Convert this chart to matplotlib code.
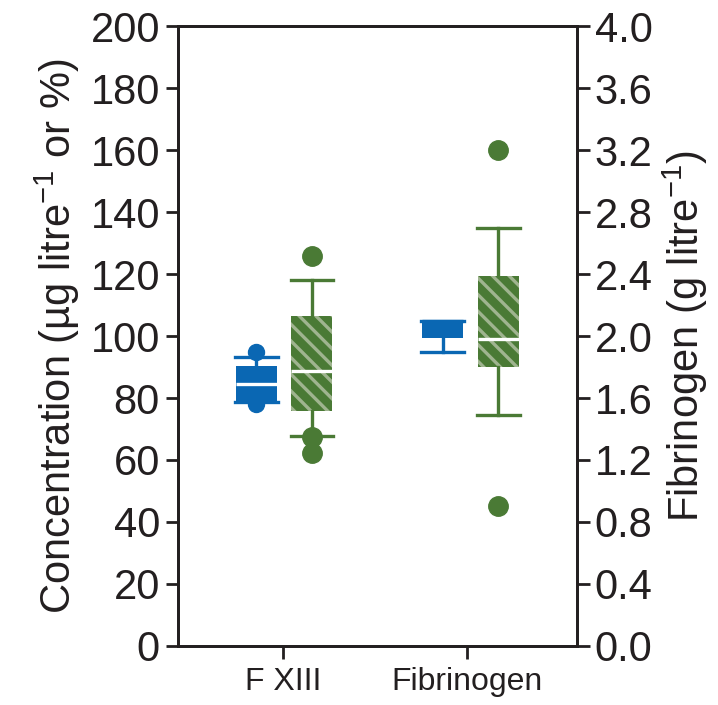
import matplotlib
matplotlib.use("Agg")
import matplotlib.pyplot as plt

plt.rcParams["font.family"] = ["Liberation Sans", "DejaVu Sans"]
plt.rcParams["mathtext.fontset"] = "custom"
plt.rcParams["mathtext.rm"] = "Liberation Sans"
plt.rcParams["mathtext.it"] = "Liberation Sans:italic"
plt.rcParams["mathtext.default"] = "regular"
plt.rcParams["hatch.linewidth"] = 2.4

INK = "#231f20"
BLUE = "#0a67b3"
GREEN = "#4a7a35"
STRIPE = "#9fb48f"

# Groups on the x axis
groups = ["F XIII", "Fibrinogen"]

# F XIII, left axis (µg litre^-1 or %)
fxiii_blue = dict(q1=78.6, med=84.5, q3=90.4, whislo=78.6, whishi=93.2, fliers=[95.0, 78.0])
fxiii_green = dict(q1=75.8, med=88.7, q3=106.5, whislo=67.7, whishi=118.0, fliers=[125.7, 67.4, 62.3])

# Fibrinogen, right axis (g litre^-1)
fib_blue = dict(q1=1.985, med=2.10, q3=2.10, whislo=1.90, whishi=2.10, fliers=[])
fib_green = dict(q1=1.80, med=1.98, q3=2.39, whislo=1.49, whishi=2.70, fliers=[3.2, 0.905])

left_ticks = list(range(0, 201, 20))
right_ticks = [0.0, 0.4, 0.8, 1.2, 1.6, 2.0, 2.4, 2.8, 3.2, 3.6, 4.0]


def draw_box(ax, stats, pos, color, hatched, median_color, ms):
    """Draw one box from summary stats."""
    art = ax.bxp([stats], positions=[pos], widths=0.22, patch_artist=True,
                 showfliers=True, capwidths=0.23,
                 boxprops=dict(linewidth=0),
                 whiskerprops=dict(color=color, linewidth=2.4),
                 capprops=dict(color=color, linewidth=2.4),
                 medianprops=dict(color=median_color, linewidth=2.4),
                 flierprops=dict(marker="o", markerfacecolor=color,
                                 markeredgecolor=color, markersize=ms))
    box = art["boxes"][0]
    if hatched:
        box.set_facecolor(GREEN)
        box.set_edgecolor(STRIPE)
        box.set_hatch("\\\\")
        box.set_linewidth(0)
    else:
        box.set_facecolor(color)
        box.set_edgecolor(color)
        box.set_linewidth(0)
    for f in art["fliers"]:
        f.set_zorder(5)
    return art


fig = plt.figure(figsize=(7.18, 7.05), dpi=100)
ax = fig.add_axes([0.2479, 0.0837, 0.5551, 0.8794])
ax2 = ax.twinx()

ax.set_xlim(0.429, 2.592)
ax.set_ylim(0, 200)
ax2.set_ylim(0, 4)

draw_box(ax, fxiii_blue, 1 - 0.145, BLUE, False, "white", 11.5)
draw_box(ax, fxiii_green, 1 + 0.155, GREEN, True, "white", 14)
draw_box(ax2, fib_blue, 2 - 0.135, BLUE, False, BLUE, 11.5)
draw_box(ax2, fib_green, 2 + 0.168, GREEN, True, "white", 14)

ax.set_xticks([1, 2])
ax.set_xticklabels(groups, fontsize=23, color=INK)
ax.set_yticks(left_ticks)
ax.set_yticklabels([str(t) for t in left_ticks], fontsize=30, color=INK)
ax2.set_yticks(right_ticks)
ax2.set_yticklabels([f"{t:.1f}" for t in right_ticks], fontsize=30, color=INK)

for a in (ax, ax2):
    for s in a.spines.values():
        s.set_linewidth(2)
        s.set_color(INK)
    a.tick_params(length=9, width=2, color=INK, direction="out", pad=4)
ax.tick_params(axis="x", pad=6)

ax.set_ylabel("Concentration (µg litre$^{-1}$ or %)", fontsize=30, color=INK, labelpad=6)
ax2.set_ylabel("Fibrinogen (g litre$^{-1}$)", fontsize=30, color=INK, labelpad=6)

fig.savefig("out.png", dpi=100)
